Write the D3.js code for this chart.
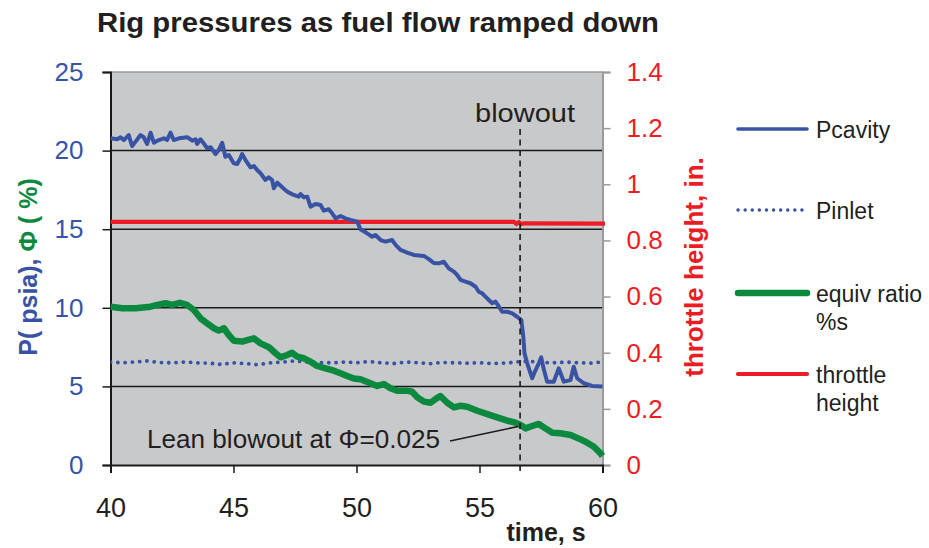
<!DOCTYPE html>
<html>
<head>
<meta charset="utf-8">
<script src="https://cdn.jsdelivr.net/npm/d3@7/dist/d3.min.js"></script>
<style>
  html, body { margin: 0; padding: 0; background: #ffffff; }
  svg { display: block; }
  text { font-family: "Liberation Sans", Arial, sans-serif; }
</style>
</head>
<body>
<svg id="chart" width="929" height="548"></svg>
<script>
// ---------------- data ----------------
const xTicks = [40, 45, 50, 55, 60];
const xTickLabels = ["40", "45", "50", "55", "60"];
const leftTicks = [0, 5, 10, 15, 20, 25];
const leftTickLabels = ["0", "5", "10", "15", "20", "25"];
const gridValues = [5, 10, 15, 20];
const rightTicks = [0, 0.2, 0.4, 0.6, 0.8, 1.0, 1.2, 1.4];
const rightTickLabels = ["0", "0.2", "0.4", "0.6", "0.8", "1", "1.2", "1.4"];

const pcavityTime = [40.0,40.27,40.41,40.54,40.74,40.88,41.02,41.22,41.35,41.49,41.63,41.76,41.96,42.17,42.30,42.44,42.57,42.78,43.12,43.32,43.46,43.52,43.66,43.79,43.93,44.07,44.27,44.40,44.54,44.67,44.81,45.01,45.15,45.28,45.35,45.49,45.69,45.83,45.96,46.10,46.30,46.43,46.57,46.64,46.78,46.98,47.18,47.45,47.65,47.72,47.86,48.00,48.13,48.33,48.54,48.67,48.87,49.01,49.15,49.35,49.55,49.76,50.03,50.16,50.43,50.64,50.77,50.98,51.18,51.45,51.59,51.79,52.06,52.33,52.74,52.94,53.14,53.35,53.55,53.75,53.96,54.09,54.23,54.43,54.63,54.84,54.97,55.11,55.24,55.38,55.52,55.65,55.79,55.92,56.13,56.33,56.53,56.70,56.78,56.83,56.94,57.14,57.28,57.41,57.51,57.62,57.75,58.02,58.22,58.43,58.70,58.83,58.97,59.24,59.58,60.0];
const pcavityValue = [20.78,20.72,20.85,20.67,20.99,20.29,20.57,20.99,20.85,20.42,21.14,20.50,20.67,20.78,20.67,21.14,20.67,20.78,20.85,20.63,20.72,20.42,20.72,20.46,20.15,20.21,19.78,20.04,20.50,19.61,19.72,19.19,19.15,19.51,19.78,19.40,18.94,19.02,18.77,18.56,18.13,18.30,18.13,17.60,17.96,17.67,17.39,17.18,17.07,17.24,17.03,17.07,16.43,16.60,16.54,16.18,16.27,16.01,15.69,15.84,15.69,15.59,15.48,15.00,14.74,14.52,14.63,14.31,14.21,14.31,14.00,13.68,13.51,13.36,13.30,13.10,12.85,12.83,12.93,12.51,12.30,12.09,11.77,11.66,11.56,11.34,11.02,10.92,10.71,10.50,10.29,10.39,10.07,9.75,9.75,9.65,9.43,9.22,8.16,7.10,6.47,5.52,6.04,6.47,6.85,6.04,5.30,5.30,6.15,5.30,5.41,6.25,5.52,5.20,5.03,5.00];

const pinletTime = [40,40.5,41,41.5,42,42.5,43,43.5,44,44.5,45,45.5,46,46.5,47,47.5,48,48.5,49,49.5,50,50.5,51,51.5,52,52.5,53,53.5,54,54.5,55,55.5,56,56.5,57,57.5,58,58.5,59,59.5,60];
const pinletValue = [6.55,6.50,6.55,6.62,6.52,6.50,6.55,6.50,6.48,6.40,6.50,6.45,6.38,6.50,6.55,6.62,6.55,6.52,6.50,6.55,6.50,6.58,6.50,6.45,6.55,6.50,6.45,6.52,6.50,6.48,6.50,6.45,6.48,6.55,6.60,6.52,6.50,6.55,6.50,6.48,6.55];

const equivTime = [40.0,40.48,41.02,41.63,41.90,42.24,42.51,42.82,43.12,43.39,43.66,43.93,44.20,44.40,44.61,44.81,45.01,45.35,45.56,45.83,46.10,46.44,46.71,46.91,47.18,47.38,47.59,47.86,48.13,48.40,48.74,49.08,49.35,49.62,49.89,50.16,50.57,50.84,51.11,51.38,51.65,52.06,52.26,52.47,52.74,53.01,53.25,53.41,53.69,53.96,54.23,54.50,54.91,55.32,55.72,56.13,56.46,56.67,56.87,57.14,57.41,57.68,57.96,58.29,58.70,59.11,59.38,59.65,59.92,60.0];
const equivValue = [10.07,9.97,9.97,10.07,10.18,10.29,10.18,10.32,10.18,9.86,9.33,9.01,8.70,8.55,8.70,8.27,7.91,7.85,7.95,8.06,7.74,7.49,7.11,6.85,7.00,7.14,6.89,6.79,6.57,6.30,6.15,6.00,5.83,5.66,5.50,5.45,5.20,5.03,5.15,4.88,4.73,4.73,4.66,4.31,4.03,3.96,4.24,4.39,3.96,3.67,3.77,3.71,3.45,3.24,3.03,2.82,2.69,2.54,2.33,2.48,2.61,2.33,2.05,2.02,1.91,1.63,1.42,1.16,0.74,0.57];

const throttleTime = [40, 56.4, 56.5, 56.6, 56.7, 56.8, 60.1];
const throttleValue = [0.866, 0.866, 0.859, 0.865, 0.858, 0.861, 0.860];

const blowoutTime = 56.65;
const blowoutPhi = 2.45;

const legendLabels = [["Pcavity"], ["Pinlet"], ["equiv ratio", "%s"], ["throttle", "height"]];

// ---------------- layout ----------------
const C = {
  blue: "#3953a4", green: "#0b8a3f", red: "#ed1c24", text: "#231f20",
  bg: "#c8c9cb", grey: "#9a9a9a"
};
const L = 110.5, R = 602.5, T = 72, B = 465;

const svg = d3.select("#chart");
const x = d3.scaleLinear().domain([40, 60]).range([L, R]);
const yL = d3.scaleLinear().domain([0, 25]).range([B, T]);
const yR = d3.scaleLinear().domain([0, 1.4]).range([B, T]);

// plot background
svg.append("rect").attr("x", L).attr("y", T).attr("width", R - L).attr("height", B - T).attr("fill", C.bg);
// top border
svg.append("line").attr("x1", L).attr("x2", R).attr("y1", T).attr("y2", T).attr("stroke", C.grey).attr("stroke-width", 1.5);

// gridlines
svg.append("g").selectAll("line").data(gridValues).join("line")
  .attr("x1", L).attr("x2", R)
  .attr("y1", d => yL(d)).attr("y2", d => yL(d))
  .attr("stroke", "#1a1a1a").attr("stroke-width", 1.5);

// right axis
const gR = svg.append("g").attr("transform", `translate(${R},0)`)
  .call(d3.axisRight(yR).tickValues(rightTicks).tickSize(8).tickPadding(16)
    .tickFormat((d, i) => rightTickLabels[i]));
gR.select(".domain").attr("stroke", C.grey).attr("stroke-width", 2);
gR.selectAll(".tick line").attr("stroke", C.grey).attr("stroke-width", 1.5);
gR.selectAll(".tick text").attr("fill", C.red).attr("font-size", 26)
  .attr("font-family", "Liberation Sans, Arial, sans-serif");

// left axis
const gL = svg.append("g").attr("transform", `translate(${L},0)`)
  .call(d3.axisLeft(yL).tickValues(leftTicks).tickSize(8).tickPadding(19)
    .tickFormat((d, i) => leftTickLabels[i]));
gL.select(".domain").attr("stroke", "#1a1a1a").attr("stroke-width", 2);
gL.selectAll(".tick line").attr("stroke", "#1a1a1a").attr("stroke-width", 1.5);
gL.selectAll(".tick text").attr("fill", C.blue).attr("font-size", 26)
  .attr("font-family", "Liberation Sans, Arial, sans-serif");

// bottom axis
const gB = svg.append("g").attr("transform", `translate(0,${B})`)
  .call(d3.axisBottom(x).tickValues(xTicks).tickSize(8).tickPadding(25)
    .tickFormat((d, i) => xTickLabels[i]));
gB.select(".domain").attr("stroke", "#1a1a1a").attr("stroke-width", 2);
gB.selectAll(".tick line").attr("stroke", "#1a1a1a").attr("stroke-width", 1.5);
gB.selectAll(".tick text").attr("fill", C.text).attr("font-size", 27)
  .attr("font-family", "Liberation Sans, Arial, sans-serif");

// clip
svg.append("clipPath").attr("id", "clip").append("rect")
  .attr("x", L).attr("y", T - 5).attr("width", R - L + 5).attr("height", B - T + 5);
const plot = svg.append("g").attr("clip-path", "url(#clip)");

// blowout vertical dashed line
svg.append("line").attr("x1", x(blowoutTime)).attr("x2", x(blowoutTime))
  .attr("y1", 129).attr("y2", B + 6)
  .attr("stroke", "#1a1a1a").attr("stroke-width", 1.6).attr("stroke-dasharray", "6,4.5");

const lineL = d3.line().x(d => x(d[0])).y(d => yL(d[1]));
const lineR = d3.line().x(d => x(d[0])).y(d => yR(d[1]));
const zip = (a, b) => a.map((t, i) => [t, b[i]]);

// Pinlet dotted
plot.append("path").datum(zip(pinletTime, pinletValue))
  .attr("d", lineL).attr("fill", "none").attr("stroke", C.blue)
  .attr("stroke-width", 3.8).attr("stroke-linecap", "round").attr("stroke-dasharray", "0.1,7.2");

// throttle
plot.append("path").datum(zip(throttleTime, throttleValue))
  .attr("d", lineR).attr("fill", "none").attr("stroke", C.red).attr("stroke-width", 4.2);

// equiv ratio
plot.append("path").datum(zip(equivTime, equivValue))
  .attr("d", lineL).attr("fill", "none").attr("stroke", C.green)
  .attr("stroke-width", 6.5).attr("stroke-linejoin", "round");

// Pcavity
plot.append("path").datum(zip(pcavityTime, pcavityValue))
  .attr("d", lineL).attr("fill", "none").attr("stroke", C.blue)
  .attr("stroke-width", 4).attr("stroke-linejoin", "round");

// blowout label
svg.append("text").attr("x", 525).attr("y", 122)
  .attr("text-anchor", "middle").attr("font-size", 26)
  .attr("font-family", "Open Sans, DejaVu Sans, sans-serif").attr("fill", C.text)
  .attr("textLength", 100).attr("lengthAdjust", "spacingAndGlyphs")
  .text("blowout");

// Lean blowout annotation
svg.append("line").attr("x1", 450).attr("y1", 441)
  .attr("x2", x(blowoutTime) - 2).attr("y2", yL(blowoutPhi))
  .attr("stroke", "#1a1a1a").attr("stroke-width", 1.5);
svg.append("text").attr("x", 147).attr("y", 448)
  .attr("font-size", 25).attr("fill", C.text)
  .attr("textLength", 293).attr("lengthAdjust", "spacingAndGlyphs")
  .text("Lean blowout at Φ=0.025");

// title
svg.append("text").attr("x", 378).attr("y", 32).attr("text-anchor", "middle")
  .attr("font-size", 27).attr("font-weight", "bold").attr("fill", C.text)
  .attr("textLength", 562).attr("lengthAdjust", "spacingAndGlyphs")
  .text("Rig pressures as fuel flow ramped down");

// x axis title
svg.append("text").attr("x", 546).attr("y", 541).attr("text-anchor", "middle")
  .attr("font-size", 25).attr("font-weight", "bold").attr("fill", C.text)
  .text("time, s");

// left axis title
const lt = svg.append("text").attr("transform", "translate(37,267) rotate(-90)")
  .attr("text-anchor", "middle").attr("font-size", 25).attr("font-weight", "bold");
lt.append("tspan").attr("fill", C.blue).text("P( psia),  ");
lt.append("tspan").attr("fill", C.green).text("Φ ( %)");

// right axis title
svg.append("text").attr("transform", "translate(703,267) rotate(-90)")
  .attr("text-anchor", "middle").attr("font-size", 26).attr("font-weight", "bold")
  .attr("fill", C.red).text("throttle height, in.");

// legend
const legendY = [129, 210, 293, 374];
const legendStyles = [
  { stroke: C.blue, w: 3.6, dash: null },
  { stroke: C.blue, w: 3.4, dash: "0.1,7" },
  { stroke: C.green, w: 6.5, dash: null },
  { stroke: C.red, w: 4.2, dash: null }
];
const lg = svg.append("g");
legendLabels.forEach((lines, i) => {
  const s = legendStyles[i];
  const ln = lg.append("line").attr("x1", 738).attr("x2", 807)
    .attr("y1", legendY[i]).attr("y2", legendY[i])
    .attr("stroke", s.stroke).attr("stroke-width", s.w).attr("stroke-linecap", "round");
  if (s.dash) ln.attr("stroke-dasharray", s.dash);
  const t = lg.append("text").attr("x", 816).attr("y", legendY[i] + 8.5)
    .attr("font-size", 23).attr("fill", C.text);
  lines.forEach((l, j) => {
    t.append("tspan").attr("x", 816).attr("dy", j === 0 ? 0 : 28).text(l);
  });
});
</script>
</body>
</html>
